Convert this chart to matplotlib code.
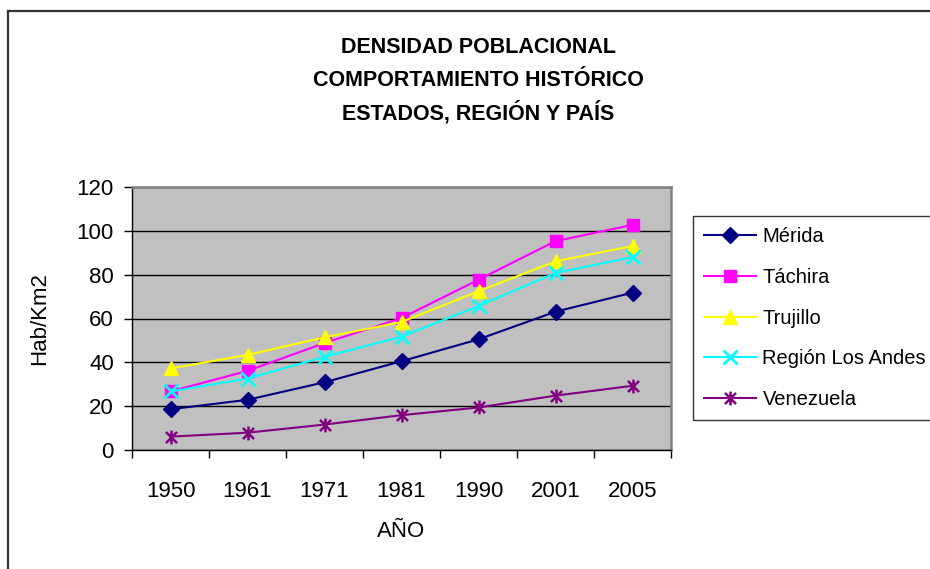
import matplotlib
matplotlib.use("Agg")
import matplotlib.pyplot as plt
from matplotlib.path import Path
from matplotlib.lines import Line2D
import numpy as np

years = ["1950", "1961", "1971", "1981", "1990", "2001", "2005"]
merida = [18.6, 22.9, 30.9, 40.5, 50.5, 63.1, 71.8]
tachira = [26.7, 36.1, 48.8, 60.2, 77.7, 95.3, 102.7]
trujillo = [37.2, 43.4, 51.4, 58.4, 72.4, 86.1, 93.1]
region_andes = [26.7, 32.6, 42.5, 51.7, 65.7, 80.8, 88.0]
venezuela = [6.1, 7.9, 11.6, 15.9, 19.4, 24.8, 29.3]

series_names = ["Mérida", "Táchira", "Trujillo", "Región Los Andes", "Venezuela"]
title_lines = ["DENSIDAD POBLACIONAL", "COMPORTAMIENTO HISTÓRICO", "ESTADOS, REGIÓN Y PAÍS"]

FONT = ["Liberation Sans", "DejaVu Sans"]
plt.rcParams["font.family"] = FONT

W, H = 930, 569
fig = plt.figure(figsize=(W / 100, H / 100), dpi=100)

def fx(px):
    return px / W

def fy(py):
    return 1 - py / H

# figure border (partially outside the image)
fig.add_artist(Line2D([fx(8), fx(8)], [fy(11), fy(600)], color="#333333", lw=1.6, transform=fig.transFigure))
fig.add_artist(Line2D([fx(8), fx(960)], [fy(11), fy(11)], color="#333333", lw=1.6, transform=fig.transFigure))

left, right, top, bottom = 132, 671, 187, 450
ax = fig.add_axes([fx(left), fy(bottom), fx(right - left), (bottom - top) / H])
ax.set_facecolor("#C0C0C0")

asterisk = Path([(-1, -1), (1, 1), (-1, 1), (1, -1), (0, -1.25), (0, 1.25)],
                [Path.MOVETO, Path.LINETO, Path.MOVETO, Path.LINETO, Path.MOVETO, Path.LINETO])

x = np.arange(len(years))
styles = [
    (merida, "#000080", "D", 8.5, {}),
    (tachira, "#FF00FF", "s", 8.5, {}),
    (trujillo, "#FFFF00", "^", 10, {}),
    (region_andes, "#00FFFF", "x", 10, {"markeredgewidth": 2}),
    (venezuela, "#800080", asterisk, 10, {"markeredgewidth": 1.8}),
]
for (vals, col, mk, ms, kw), name in zip(styles, series_names):
    ax.plot(x, vals, color=col, lw=1.5, marker=mk, markersize=ms,
            markerfacecolor=col, markeredgecolor=col, label=name, zorder=3, **kw)

ax.set_xlim(-0.5, len(years) - 0.5)
ax.set_ylim(0, 120)
ax.set_yticks(np.arange(0, 121, 20))
ax.yaxis.grid(True, color="black", lw=1.0)
ax.set_axisbelow(True)
ax.set_xticks(x)
ax.set_xticklabels(years)
ax.set_xticks(np.arange(-0.5, len(years), 1), minor=True)
ax.tick_params(axis="x", which="major", length=0, pad=22, labelsize=16)
ax.tick_params(axis="x", which="minor", length=6, width=1, color="black", direction="out")
ax.tick_params(axis="y", length=6, width=1, color="black", direction="out", pad=7, labelsize=16)

for s in ["top", "right"]:
    ax.spines[s].set_color("#808080")
    ax.spines[s].set_linewidth(1.8)
for s in ["left", "bottom"]:
    ax.spines[s].set_color("black")
    ax.spines[s].set_linewidth(1.0)

ax.set_ylabel("Hab/Km2", fontsize=16, labelpad=19)
ax.set_xlabel("AÑO", fontsize=16, labelpad=14)

for line, ypx in zip(title_lines, [45, 78, 110]):
    fig.text(fx(478), fy(ypx), line, ha="center", va="center_baseline",
             fontsize=15.5, fontweight="bold")

leg = fig.legend(loc="upper left", bbox_to_anchor=(fx(693), fy(216)), bbox_transform=fig.transFigure,
                 frameon=True, fancybox=False, edgecolor="black", fontsize=14.5,
                 handlelength=2.6, handletextpad=0.3, labelspacing=1.08, borderpad=0.55,
                 borderaxespad=0)
leg.get_frame().set_linewidth(1.0)

fig.savefig("out.png", dpi=100)
